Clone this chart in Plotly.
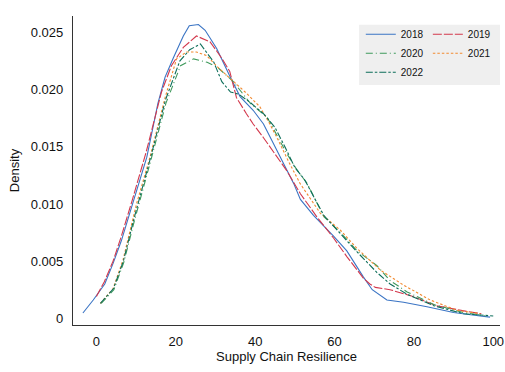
import plotly.graph_objects as go

# ---- data ----
years = ["2018", "2019", "2020", "2021", "2022"]

x_2018 = [-3.4, -0.8, 2.1, 4.2, 6.3, 8.4, 10.5, 12.7, 15.5, 17.3, 19.4, 21.9, 23.4, 25.7, 27.4, 30.3,
          33.6, 36.2, 39.5, 42.1, 44.6, 47.1, 49.7, 51.4, 54.7, 59.7, 63.1, 67.3, 69.5, 73.2, 77.4,
          83.3, 90.0, 96.7, 99.2]
y_2018 = [0.00046, 0.0016, 0.0030, 0.0048, 0.0068, 0.0092, 0.0117, 0.0141, 0.0188, 0.0211, 0.0228,
          0.0247, 0.0256, 0.0257, 0.0252, 0.0236, 0.0212, 0.0194, 0.0182, 0.0170, 0.0153, 0.0136,
          0.0118, 0.0104, 0.0090, 0.0072, 0.0059, 0.0036, 0.0025, 0.0016, 0.0014, 0.0010, 0.0005,
          0.0002, 0.0001]

x_2019 = [0.0, 2.0, 4.2, 6.3, 9.0, 12.5, 16.4, 18.9, 21.9, 25.2, 28.6, 31.5, 33.6, 35.3, 37.8, 39.5,
          42.1, 45.0, 48.0, 51.4, 55.5, 59.8, 63.1, 67.3, 68.9, 70.3, 74.0, 79.8, 85.7, 93.3, 97.0]
y_2019 = [0.0019, 0.0032, 0.0050, 0.0072, 0.0103, 0.0145, 0.0198, 0.0221, 0.0237, 0.0247, 0.0242,
          0.0228, 0.0216, 0.0193, 0.0179, 0.0170, 0.0158, 0.0144, 0.0129, 0.0109, 0.0089, 0.0070,
          0.0054, 0.0035, 0.0030, 0.0027, 0.0025, 0.0019, 0.0011, 0.0006, 0.0004]

x_2020 = [1.2, 4.4, 6.9, 9.4, 13.7, 17.5, 21.2, 24.5, 27.9, 30.4, 34.5, 38.8, 43.0, 45.5, 48.0, 50.5,
          53.1, 57.3, 61.5, 65.7, 70.7, 74.0, 78.3, 85.0, 92.5, 98.0]
y_2020 = [0.0013, 0.0025, 0.0049, 0.0083, 0.0138, 0.0188, 0.0221, 0.0227, 0.0224, 0.0220, 0.0207,
          0.0188, 0.0176, 0.0160, 0.0144, 0.0130, 0.0118, 0.0089, 0.0075, 0.0059, 0.0046, 0.0033,
          0.0023, 0.0012, 0.0005, 0.0002]

x_2021 = [1.0, 4.2, 6.7, 9.2, 10.1, 13.5, 17.3, 20.2, 22.7, 25.2, 27.7, 31.1, 34.5, 37.8, 41.2, 43.7,
          45.8, 48.3, 51.3, 56.4, 61.5, 65.7, 71.6, 77.4, 84.1, 90.8, 96.7]
y_2021 = [0.0013, 0.0026, 0.0051, 0.0086, 0.0100, 0.0141, 0.0193, 0.0227, 0.0233, 0.0233, 0.0230,
          0.0218, 0.0207, 0.0197, 0.0185, 0.0170, 0.0156, 0.0138, 0.0118, 0.0092, 0.0077, 0.0061,
          0.0042, 0.0029, 0.0016, 0.0007, 0.0004]

x_2022 = [1.0, 4.3, 6.8, 9.3, 13.6, 17.4, 21.0, 23.5, 26.2, 29.6, 31.6, 33.8, 35.9, 38.7, 42.1, 45.0,
          47.5, 50.0, 52.5, 57.3, 61.5, 65.7, 70.7, 74.0, 78.3, 85.0, 92.5, 100.0]
y_2022 = [0.0013, 0.0026, 0.0050, 0.0085, 0.0140, 0.0191, 0.0225, 0.0235, 0.0240, 0.0224, 0.0207,
          0.0198, 0.0196, 0.0189, 0.0179, 0.0167, 0.0150, 0.0132, 0.0121, 0.0090, 0.0074, 0.0058,
          0.0040, 0.0030, 0.0021, 0.0011, 0.0004, 0.0002]

x_ticks = [0, 20, 40, 60, 80, 100]
y_ticks = [0, 0.005, 0.010, 0.015, 0.020, 0.025]
y_tick_labels = ["0", "0.005", "0.010", "0.015", "0.020", "0.025"]

series = {
    "2018": (x_2018, y_2018),
    "2019": (x_2019, y_2019),
    "2020": (x_2020, y_2020),
    "2021": (x_2021, y_2021),
    "2022": (x_2022, y_2022),
}

colors = {"2018": "#3a74c4", "2019": "#d3384c", "2020": "#3f9a5c", "2021": "#f28a30", "2022": "#0c6e5a"}
dashes = {"2018": "solid", "2019": "9px,2px", "2020": "7px,3px,1px,3px",
          "2021": "2.5px,2px", "2022": "7px,2px,2.5px,2px"}
legend_of = {"2018": "legend", "2020": "legend", "2022": "legend", "2019": "legend2", "2021": "legend2"}

FONT = "Liberation Sans, Arial, sans-serif"

fig = go.Figure()
for yr in years:
    xs, ys = series[yr]
    fig.add_trace(go.Scatter(
        x=xs, y=ys, mode="lines", name=yr,
        line=dict(color=colors[yr], width=1.1, dash=dashes[yr]),
        legend=legend_of[yr],
    ))

legend_common = dict(
    bgcolor="rgba(0,0,0,0)", borderwidth=0,
    font=dict(family=FONT, size=10, color="#111111"),
    orientation="v", xanchor="left", yanchor="top",
)

fig.update_layout(
    width=505, height=372,
    margin=dict(l=73, r=5, t=16, b=47, autoexpand=False),
    paper_bgcolor="white", plot_bgcolor="white",
    font=dict(family=FONT, size=13, color="#111111"),
    showlegend=True,
    legend=dict(x=0.674, y=0.988, **legend_common),
    legend2=dict(x=0.831, y=0.988, **legend_common),
    shapes=[dict(type="rect", xref="paper", yref="paper", x0=0.67, x1=1.0, y0=0.777, y1=0.972,
                 fillcolor="#efefef", line=dict(width=0), layer="below")],
    xaxis=dict(
        range=[-5.9, 101.7], tickvals=x_ticks, showgrid=False, zeroline=False,
        showline=True, linecolor="#333333", linewidth=1.3, automargin=False,
        ticks="outside", ticklen=4, tickcolor="rgba(0,0,0,0)",
        title=dict(text="Supply Chain Resilience", font=dict(size=13), standoff=4),
        tickfont=dict(size=13),
    ),
    yaxis=dict(
        range=[-0.00059, 0.02645], tickvals=y_ticks, ticktext=y_tick_labels,
        showgrid=False, zeroline=False, automargin=False,
        showline=True, linecolor="#333333", linewidth=1.3,
        ticks="outside", ticklen=6, tickcolor="rgba(0,0,0,0)",
        title=dict(text="Density", font=dict(size=13), standoff=8),
        tickfont=dict(size=13),
    ),
)

fig.write_html("out.html")
